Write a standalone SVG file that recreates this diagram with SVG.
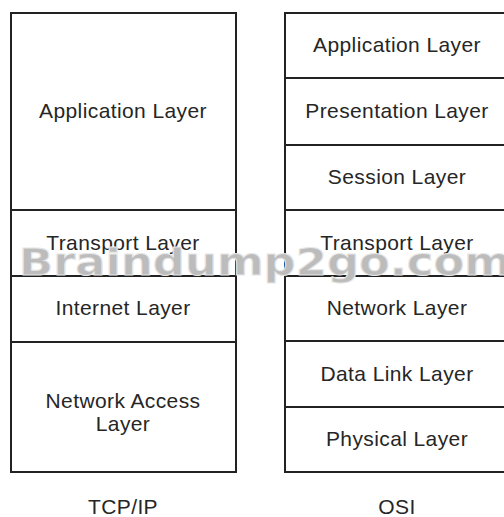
<svg xmlns="http://www.w3.org/2000/svg" width="504" height="517" viewBox="0 0 504 517">
<style>
.box{fill:#fff;stroke:#222;stroke-width:2}
.lbl{font-family:"Liberation Sans",Arial,sans-serif;font-size:21px;letter-spacing:0.4px;fill:#262626;text-anchor:middle}
.wm{font-family:"DejaVu Sans",sans-serif;font-weight:bold;font-size:38px;fill:#bcbcbc;stroke:#e6e6e6;stroke-width:1}
</style>
<rect width="504" height="517" fill="#fff"/>
<g id="tcpip">
<g id="tcp-app"><rect class="box" x="11" y="13" width="225" height="197"/><text class="lbl" x="123" y="118">Application Layer</text></g>
<g id="tcp-transport"><rect class="box" x="11" y="210" width="225" height="66"/><text class="lbl" x="123" y="250">Transport Layer</text></g>
<g id="tcp-internet"><rect class="box" x="11" y="276" width="225" height="66"/><text class="lbl" x="123" y="315">Internet Layer</text></g>
<g id="tcp-netaccess"><rect class="box" x="11" y="342" width="225" height="130"/><text class="lbl" x="123" y="408">Network Access</text><text class="lbl" x="123" y="431">Layer</text></g>
<text id="tcp-title" class="lbl" x="123" y="514">TCP/IP</text>
</g>
<g id="osi">
<g id="osi-app"><rect class="box" x="285" y="13" width="225" height="65"/><text class="lbl" x="397" y="52">Application Layer</text></g>
<g id="osi-pres"><rect class="box" x="285" y="78" width="225" height="67"/><text class="lbl" x="397" y="118">Presentation Layer</text></g>
<g id="osi-session"><rect class="box" x="285" y="145" width="225" height="65"/><text class="lbl" x="397" y="184">Session Layer</text></g>
<g id="osi-transport"><rect class="box" x="285" y="210" width="225" height="66"/><text class="lbl" x="397" y="250">Transport Layer</text></g>
<g id="osi-network"><rect class="box" x="285" y="276" width="225" height="65"/><text class="lbl" x="397" y="315">Network Layer</text></g>
<g id="osi-datalink"><rect class="box" x="285" y="341" width="225" height="66"/><text class="lbl" x="397" y="381">Data Link Layer</text></g>
<g id="osi-physical"><rect class="box" x="285" y="407" width="225" height="65"/><text class="lbl" x="397" y="446">Physical Layer</text></g>
<text id="osi-title" class="lbl" x="397" y="514">OSI</text>
</g>
<g id="connectors"></g>
<text class="wm" x="19" y="275" textLength="492" lengthAdjust="spacingAndGlyphs">Braindump2go.com</text>
</svg>
